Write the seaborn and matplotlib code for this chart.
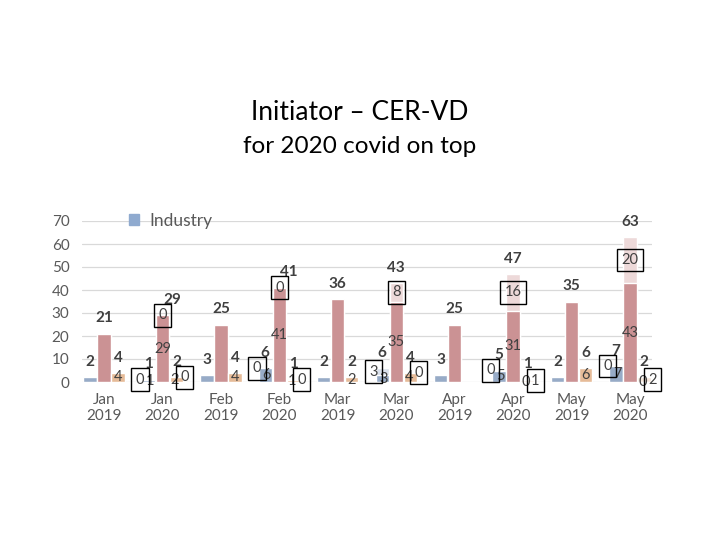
import pandas as pd
import matplotlib
matplotlib.use("Agg")
import matplotlib.pyplot as plt
from matplotlib.patches import Patch
import seaborn as sns

# chart data
months = ['Jan', 'Jan', 'Feb', 'Feb', 'Mar', 'Mar', 'Apr', 'Apr', 'May', 'May']
years = ['2019', '2020', '2019', '2020', '2019', '2020', '2019', '2020', '2019', '2020']
series = ['Industry', 'Series 2', 'Series 3']

industry_base = [2, 1, 3, 6, 2, 3, 3, 5, 2, 7]
industry_covid = [0, 0, 0, 0, 0, 3, 0, 0, 0, 0]
red_base = [21, 29, 25, 41, 36, 35, 25, 31, 35, 43]
red_covid = [0, 0, 0, 0, 0, 8, 0, 16, 0, 20]
orange_base = [4, 2, 4, 1, 2, 4, 0, 0, 6, 0]
orange_covid = [0, 0, 0, 0, 0, 0, 0, 1, 0, 2]

labels = [f'{m}\n{y}' for m, y in zip(months, years)]
bases = [industry_base, red_base, orange_base]
covids = [industry_covid, red_covid, orange_covid]

rows = []
for s, b, c in zip(series, bases, covids):
    for lab, yr, vb, vc in zip(labels, years, b, c):
        rows.append({'label': lab, 'year': yr, 'series': s,
                     'base': vb, 'covid': vc, 'total': vb + vc})
df = pd.DataFrame(rows)

dark = ['#8FAACF', '#D5888B', '#F3B98B']
light = ['#D6DFEE', '#F0D6D6', '#FBE6D6']
txt = '#404040'

sns.set_style('white')
plt.rcParams['font.family'] = ['Lato', 'DejaVu Sans']

fig = plt.figure(figsize=(7.2, 5.4), dpi=100)
ax = fig.add_axes([82 / 720, 1 - 382 / 540, 570 / 720, 161 / 540])

# totals in light colour first, base drawn over it -> covid part stays on top
sns.barplot(data=df, x='label', y='total', hue='series', order=labels,
            hue_order=series, palette=light, width=0.72, gap=0.05,
            legend=False, ax=ax)
n_light = len(ax.containers)
sns.barplot(data=df, x='label', y='base', hue='series', order=labels,
            hue_order=series, palette=dark, width=0.72, gap=0.05,
            legend=False, ax=ax)
base_conts = ax.containers[n_light:]

for si, cont in enumerate(base_conts):
    for gi, bar in enumerate(cont):
        x = bar.get_x() + bar.get_width() / 2
        vb = bases[si][gi]
        vc = covids[si][gi]
        tot = vb + vc
        yr = years[gi]
        if yr == '2019':
            if tot == 0:
                continue
            ax.annotate(str(tot), (x, tot), xytext=(0, 11), textcoords='offset points',
                        ha='center', va='center', fontsize=11, fontweight='bold', color=txt)
            if si == 2:
                ax.text(x, vb / 2, str(vb), ha='center', va='center', fontsize=10.5, color=txt)
            continue
        # 2020: total, base and covid (boxed)
        dx_tot = 0
        dx_box = {0: -6, 1: 0, 2: 6}[si]
        dx_base = {0: 1, 1: 0, 2: -1}[si]
        if si == 1 and vc == 0:
            dx_tot = 7
        ax.annotate(str(tot), (x, tot), xytext=(dx_tot, 11), textcoords='offset points',
                    ha='center', va='center', fontsize=11, fontweight='bold', color=txt)
        ax.annotate(str(vb), (x, vb / 2), xytext=(dx_base, 0), textcoords='offset points',
                    ha='center', va='center', fontsize=10.5, color=txt)
        ax.annotate(str(vc), (x, vb + vc / 2), xytext=(dx_box, 0), textcoords='offset points',
                    ha='center', va='center', fontsize=10.5, color=txt,
                    bbox=dict(boxstyle='square,pad=0.3', fc='none', ec='black', lw=1))

ax.set_ylim(0, 70)
ax.set_xlim(-0.376, 9.376)
ax.set_yticks(range(0, 71, 10))
ax.yaxis.grid(True, color='#D9D9D9', lw=0.9)
ax.set_axisbelow(True)
for sp in ax.spines.values():
    sp.set_visible(False)
ax.tick_params(axis='both', length=0, colors='#595959', labelsize=11)
ax.tick_params(axis='y', pad=9)
ax.tick_params(axis='x', pad=8)
ax.set_xlabel('')
ax.set_ylabel('')
for t in ax.get_xticklabels():
    t.set_linespacing(1.2)

ax.legend(handles=[Patch(color=dark[0], label='Industry')], loc='center left',
          bbox_to_anchor=(0.055, 1.0), frameon=False, handlelength=0.6,
          handleheight=0.6, handletextpad=0.6, fontsize=12.5, labelcolor='#595959')

fig.text(0.5, 1 - 113 / 540, 'Initiator – CER-VD', ha='center', va='center',
         fontsize=19, color='black')
fig.text(0.5, 1 - 147 / 540, 'for 2020 covid on top', ha='center', va='center',
         fontsize=17.5, color='black')

fig.savefig('out.png', dpi=100)
